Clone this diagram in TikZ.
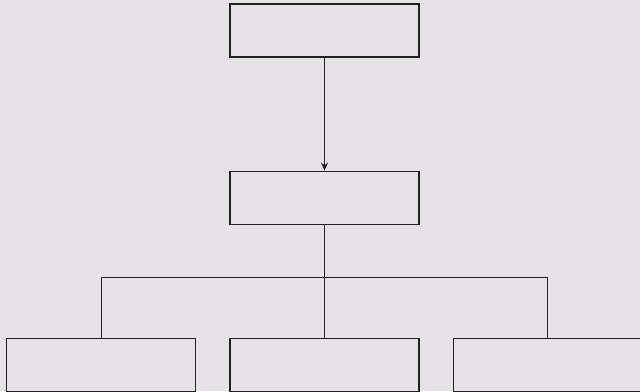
\documentclass[tikz,border=0pt]{standalone}
\usetikzlibrary{positioning,calc,arrows.meta}
\definecolor{bggray}{HTML}{E6E3E7}
\definecolor{linegray}{HTML}{222222}

\begin{document}
\begin{tikzpicture}[
    x=1pt, y=1pt,
    box/.style={draw=linegray, line width=1.2pt, minimum width=189pt, minimum height=53pt, inner sep=0pt},
    arrow/.style={-{Stealth[length=8pt,width=7pt]}, line width=1.2pt, draw=linegray},
    link/.style={line width=1.2pt, draw=linegray}
]
\fill[bggray] (0,0) rectangle (640,-391);
\useasboundingbox (0,0) rectangle (640,-391);
\node[box] (top) at (324.5,-30.5) {};
\node[box, below=113pt of top] (mid) {};
\node[box, below=113pt of mid] (bm) {};
\node[box, left=33pt of bm] (bl) {};
\node[box, right=33pt of bm] (br) {};
\coordinate (bus) at ($(mid.south)+(0,-53)$);
\draw[arrow] (top) -- (mid);
\draw[link] (mid.south) -- (bus);
\draw[link] (bl.north) |- (bus) -| (br.north);
\draw[link] (bus) -- (bm.north);
\end{tikzpicture}
\end{document}
